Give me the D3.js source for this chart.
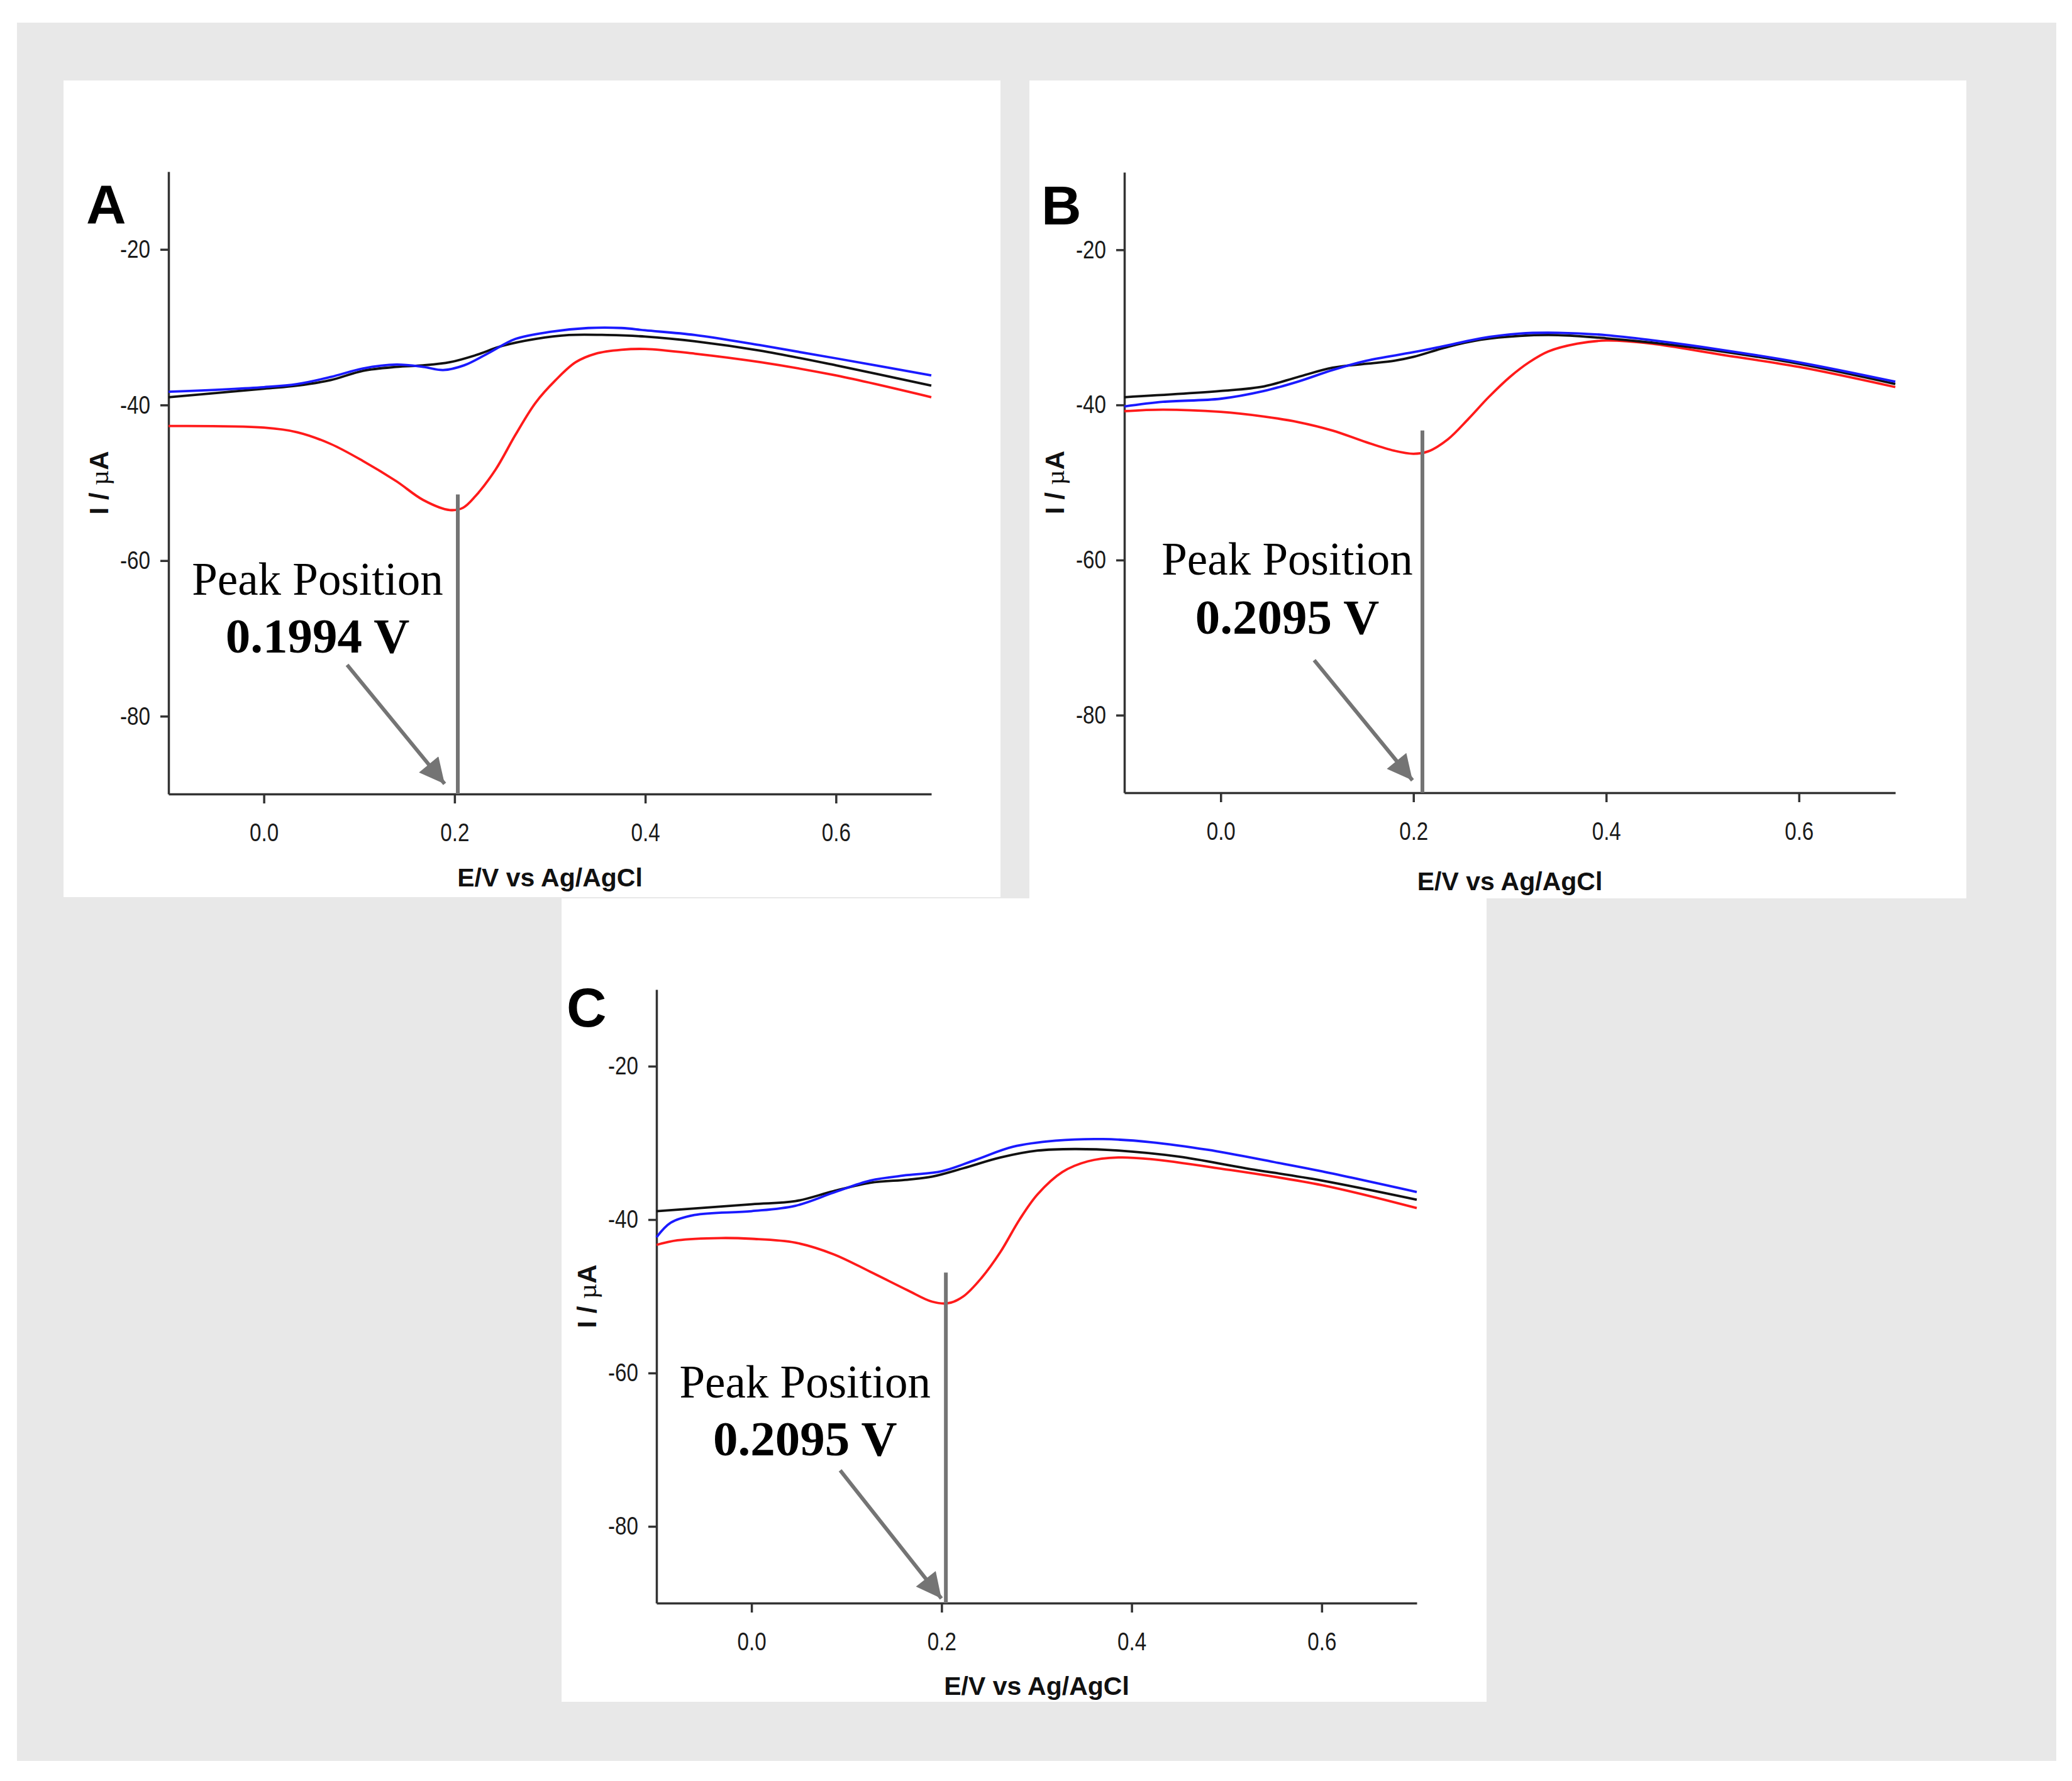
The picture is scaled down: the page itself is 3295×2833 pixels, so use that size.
<!DOCTYPE html>
<html>
<head>
<meta charset="utf-8">
<script src="https://cdn.jsdelivr.net/npm/d3@7"></script>
<style>
  body { margin: 0; background: #fff; }
  svg { display: block; }
</style>
</head>
<body>
<div id="chart"></div>
<script>
// Square wave voltammograms, three panels (A, B, C), I / µA vs E / V

// ---- data ----
const xTicks = [0.0, 0.2, 0.4, 0.6];
const yTicks = [-20, -40, -60, -80];

// panel A
const aRedE = [-0.1, 0.0, 0.035, 0.07, 0.104, 0.139, 0.167, 0.195, 0.209, 0.222, 0.243, 0.264, 0.285, 0.306, 0.327, 0.348, 0.375, 0.4, 0.452, 0.521, 0.6, 0.7];
const aRedI = [-42.7, -42.9, -43.5, -45.0, -47.2, -49.8, -52.2, -53.5, -53.2, -51.7, -48.3, -43.8, -39.7, -36.8, -34.5, -33.4, -32.9, -32.8, -33.4, -34.5, -36.2, -39.0];
const aBlackE = [-0.1, 0.0, 0.035, 0.07, 0.104, 0.139, 0.167, 0.195, 0.222, 0.25, 0.285, 0.32, 0.36, 0.4, 0.452, 0.52, 0.6, 0.7];
const aBlackI = [-39.0, -37.9, -37.5, -36.8, -35.6, -35.1, -34.9, -34.5, -33.6, -32.4, -31.5, -31.0, -31.0, -31.2, -31.8, -33.0, -34.9, -37.5];
const aBlueE = [-0.1, 0.0, 0.035, 0.07, 0.104, 0.139, 0.167, 0.188, 0.21, 0.236, 0.264, 0.3, 0.34, 0.375, 0.4, 0.452, 0.52, 0.6, 0.7];
const aBlueI = [-38.3, -37.7, -37.3, -36.4, -35.3, -34.8, -35.1, -35.5, -34.9, -33.3, -31.5, -30.6, -30.1, -30.1, -30.4, -31.0, -32.3, -34.0, -36.2];

// panel B
const bRedE = [-0.1, -0.06, 0.0, 0.045, 0.08, 0.116, 0.151, 0.18, 0.2, 0.215, 0.236, 0.257, 0.278, 0.3, 0.32, 0.34, 0.37, 0.4, 0.447, 0.518, 0.6, 0.7];
const bRedI = [-40.8, -40.6, -40.9, -41.5, -42.2, -43.3, -44.8, -45.9, -46.3, -46.0, -44.4, -41.8, -39.0, -36.4, -34.5, -33.1, -32.1, -31.7, -32.1, -33.5, -35.1, -37.7];
const bBlackE = [-0.1, 0.0, 0.045, 0.08, 0.116, 0.151, 0.18, 0.2, 0.236, 0.27, 0.31, 0.35, 0.4, 0.45, 0.52, 0.6, 0.7];
const bBlackI = [-39.0, -38.2, -37.6, -36.4, -35.2, -34.7, -34.3, -33.8, -32.5, -31.6, -31.1, -31.0, -31.4, -32.0, -33.1, -34.7, -37.3];
const bBlueE = [-0.1, -0.06, 0.0, 0.045, 0.08, 0.116, 0.151, 0.2, 0.236, 0.27, 0.31, 0.35, 0.4, 0.45, 0.52, 0.6, 0.7];
const bBlueI = [-40.2, -39.6, -39.2, -38.2, -37.0, -35.5, -34.3, -33.2, -32.3, -31.4, -30.8, -30.7, -31.0, -31.7, -32.9, -34.5, -37.0];

// panel C
const cRedE = [-0.1, -0.078, -0.032, 0.0, 0.046, 0.086, 0.125, 0.164, 0.19, 0.207, 0.223, 0.242, 0.262, 0.282, 0.301, 0.327, 0.354, 0.386, 0.419, 0.491, 0.6, 0.7];
const cRedI = [-43.3, -42.7, -42.4, -42.5, -43.0, -44.5, -46.8, -49.2, -50.7, -50.9, -50.0, -47.6, -44.2, -40.0, -36.7, -33.8, -32.4, -31.9, -32.1, -33.3, -35.5, -38.5];
const cBlackE = [-0.1, 0.0, 0.046, 0.086, 0.125, 0.164, 0.19, 0.223, 0.262, 0.301, 0.34, 0.386, 0.45, 0.52, 0.6, 0.7];
const cBlackI = [-38.9, -38.0, -37.6, -36.3, -35.2, -34.8, -34.4, -33.3, -31.9, -31.0, -30.8, -31.0, -31.8, -33.3, -34.9, -37.4];
const cBlueE = [-0.1, -0.085, -0.06, 0.0, 0.046, 0.086, 0.125, 0.164, 0.2, 0.236, 0.275, 0.32, 0.37, 0.42, 0.48, 0.55, 0.6, 0.7];
const cBlueI = [-42.3, -40.4, -39.4, -38.9, -38.2, -36.5, -34.9, -34.2, -33.7, -32.2, -30.5, -29.7, -29.5, -29.9, -30.9, -32.5, -33.7, -36.4];

// peak annotations: [line E, line top I, text E, "Peak Position" I, value I, arrow start E, I, arrow tip E, I]
const peakLabels = ["0.1994 V", "0.2095 V", "0.2095 V"];
const peakA = [0.2034, -51.5, 0.0563, -64.4, -71.8, 0.0873, -73.4, 0.1896, -88.7];
const peakB = [0.2093, -43.3, 0.0690, -61.9, -69.5, 0.0970, -72.9, 0.1990, -88.4];
const peakC = [0.2045, -46.9, 0.0563, -63.2, -70.7, 0.0933, -72.7, 0.1998, -89.4];

// ---- layout ----
const W = 3295, H = 2833;
const panels = [
  { id: "A", box: [101, 128, 1490, 1299], plot: [268, 1481, 273, 1263], letter: [137, 355], xTitleY: 1410,
    series: [[aRedE, aRedI, "#ff1a1a"], [aBlackE, aBlackI, "#111"], [aBlueE, aBlueI, "#1a1aff"]], peak: peakA, label: peakLabels[0] },
  { id: "B", box: [1637, 128, 1490, 1301], plot: [1788, 3014, 274, 1261], letter: [1656, 357], xTitleY: 1416,
    series: [[bRedE, bRedI, "#ff1a1a"], [bBlackE, bBlackI, "#111"], [bBlueE, bBlueI, "#1a1aff"]], peak: peakB, label: peakLabels[1] },
  { id: "C", box: [893, 1429, 1471, 1278], plot: [1044, 2253, 1574, 2550], letter: [901, 1633], xTitleY: 2696,
    series: [[cRedE, cRedI, "#ff1a1a"], [cBlackE, cBlackI, "#111"], [cBlueE, cBlueI, "#1a1aff"]], peak: peakC, label: peakLabels[2] }
];

const sans = "'Liberation Sans', Arial, sans-serif";
const serif = "'Liberation Serif', 'Times New Roman', serif";
const axisColor = "#333";
const annotColor = "#747474";
const narrow = 0.83; // tick labels in the original are a condensed face

const svg = d3.select("#chart").append("svg")
  .attr("width", W).attr("height", H)
  .attr("viewBox", `0 0 ${W} ${H}`);

svg.append("rect").attr("width", W).attr("height", H).attr("fill", "#fff");
svg.append("rect").attr("x", 27).attr("y", 36).attr("width", 3243).attr("height", 2765).attr("fill", "#e8e8e8");

svg.append("defs").append("marker")
  .attr("id", "arrowhead")
  .attr("markerUnits", "userSpaceOnUse")
  .attr("viewBox", "0 0 10 10")
  .attr("refX", 10).attr("refY", 5)
  .attr("markerWidth", 44).attr("markerHeight", 40)
  .attr("orient", "auto")
  .append("path")
  .attr("d", "M0,0 L10,5 L0,10 Z")
  .attr("fill", annotColor);

function drawPanel(p) {
  const [bx, by, bw, bh] = p.box;
  svg.append("rect").attr("x", bx).attr("y", by).attr("width", bw).attr("height", bh).attr("fill", "#fff");

  const [x0, x1, y0, y1] = p.plot;
  const x = d3.scaleLinear().domain([-0.1, 0.7]).range([x0, x1]);
  const y = d3.scaleLinear().domain([-90, -10]).range([y1, y0]);

  const g = svg.append("g");

  // x axis
  const xAxis = g.append("g")
    .attr("transform", `translate(0,${y1})`)
    .call(d3.axisBottom(x).tickValues(xTicks).tickSize(15).tickSizeOuter(0).tickPadding(32).tickFormat(d3.format(".1f")));
  // y axis
  const yAxis = g.append("g")
    .attr("transform", `translate(${x0},0)`)
    .call(d3.axisLeft(y).tickValues(yTicks).tickSize(13).tickSizeOuter(0).tickPadding(16).tickFormat(d => String(d)));

  [xAxis, yAxis].forEach(a => {
    a.select(".domain").attr("stroke", axisColor).attr("stroke-width", 3.5);
    a.selectAll(".tick line").attr("stroke", axisColor).attr("stroke-width", 3.5);
    a.selectAll(".tick text").attr("fill", "#1a1a1a").attr("font-family", sans).attr("font-size", 40);
  });
  xAxis.selectAll(".tick text").attr("transform", `scale(${narrow},1)`);
  yAxis.selectAll(".tick text").each(function() {
    const t = d3.select(this);
    const tx = +t.attr("x");
    t.attr("x", 0).attr("transform", `translate(${tx},0) scale(${narrow},1)`);
  });

  // axis titles
  g.append("text")
    .attr("x", (x0 + x1) / 2).attr("y", p.xTitleY)
    .attr("text-anchor", "middle")
    .attr("font-family", sans).attr("font-weight", "bold").attr("font-size", 41)
    .attr("fill", "#111")
    .text("E/V vs Ag/AgCl");

  const yt = g.append("text")
    .attr("transform", `translate(${x0 - 96},${(y0 + y1) / 2}) rotate(-90)`)
    .attr("text-anchor", "middle")
    .attr("font-family", sans).attr("font-size", 42).attr("fill", "#111");
  yt.append("tspan").attr("font-weight", "bold").text("I / ");
  yt.append("tspan").attr("font-family", serif).text("µ");
  yt.append("tspan").attr("font-weight", "bold").text("A");

  // panel letter
  g.append("text")
    .attr("x", p.letter[0]).attr("y", p.letter[1])
    .attr("font-family", sans).attr("font-weight", "bold").attr("font-size", 88)
    .attr("fill", "#000")
    .text(p.id);

  // traces
  const line = d3.line()
    .x(d => x(d[0]))
    .y(d => y(d[1]))
    .curve(d3.curveCatmullRom.alpha(0.5));

  p.series.forEach(([es, is, color]) => {
    g.append("path")
      .datum(es.map((e, i) => [e, is[i]]))
      .attr("fill", "none")
      .attr("stroke", color)
      .attr("stroke-width", 3.8)
      .attr("stroke-linejoin", "round")
      .attr("d", line);
  });

  // peak annotation
  const [lineE, lineTop, textE, ppI, valI, aE0, aI0, aE1, aI1] = p.peak;
  g.append("line")
    .attr("x1", x(lineE)).attr("x2", x(lineE))
    .attr("y1", y(lineTop)).attr("y2", y(-90))
    .attr("stroke", annotColor).attr("stroke-width", 6);

  g.append("text")
    .attr("x", x(textE)).attr("y", y(ppI))
    .attr("text-anchor", "middle")
    .attr("font-family", serif).attr("font-size", 73).attr("fill", "#000")
    .text("Peak Position");
  g.append("text")
    .attr("x", x(textE)).attr("y", y(valI))
    .attr("text-anchor", "middle")
    .attr("font-family", serif).attr("font-weight", "bold").attr("font-size", 79).attr("fill", "#000")
    .text(p.label);

  g.append("line")
    .attr("x1", x(aE0)).attr("y1", y(aI0))
    .attr("x2", x(aE1)).attr("y2", y(aI1))
    .attr("stroke", annotColor).attr("stroke-width", 6)
    .attr("marker-end", "url(#arrowhead)");
}

panels.forEach(drawPanel);
</script>
</body>
</html>
